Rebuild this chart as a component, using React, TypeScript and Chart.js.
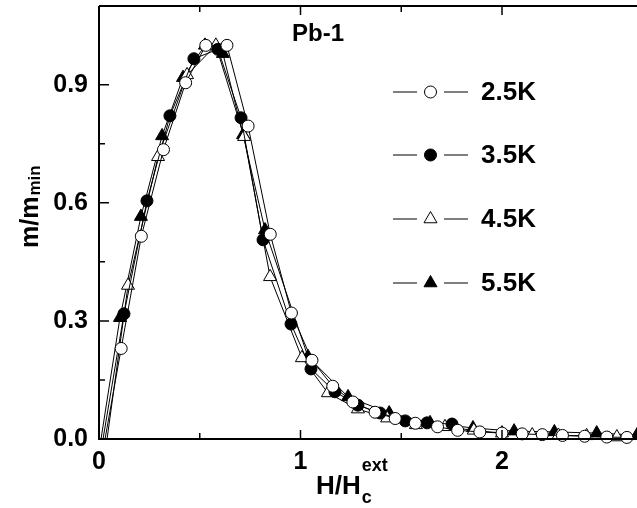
import React, { useEffect, useRef } from "react";
import { Chart, registerables } from "chart.js";

Chart.register(...registerables);

const seriesLabels = ["2.5K", "3.5K", "4.5K", "5.5K"];

const x25 = [0.03, 0.11, 0.21, 0.32, 0.43, 0.53, 0.635, 0.74, 0.85, 0.955, 1.057, 1.16, 1.26, 1.37, 1.47, 1.57, 1.68, 1.78, 1.89, 2.0, 2.1, 2.2, 2.3, 2.41, 2.52, 2.62];
const y25 = [0, 0.23, 0.515, 0.735, 0.905, 1.0, 1.0, 0.795, 0.52, 0.32, 0.2, 0.134, 0.094, 0.068, 0.052, 0.04, 0.031, 0.022, 0.018, 0.015, 0.013, 0.011, 0.009, 0.007, 0.005, 0.004];

const x35 = [0.02, 0.124, 0.238, 0.352, 0.471, 0.59, 0.705, 0.814, 0.953, 1.052, 1.171, 1.285, 1.395, 1.52, 1.628, 1.752];
const y35 = [0, 0.318, 0.605, 0.821, 0.966, 0.99, 0.816, 0.506, 0.292, 0.178, 0.12, 0.086, 0.066, 0.046, 0.041, 0.038];

const x45 = [0.04, 0.144, 0.293, 0.437, 0.58, 0.72, 0.849, 1.007, 1.136, 1.285, 1.43, 1.573, 1.717, 1.86, 2.0, 2.15, 2.28, 2.42, 2.57];
const y45 = [0, 0.39, 0.717, 0.925, 1.0, 0.768, 0.412, 0.206, 0.117, 0.076, 0.053, 0.036, 0.031, 0.022, 0.015, 0.01, 0.009, 0.008, 0.005];

const x55 = [0.01, 0.104, 0.208, 0.313, 0.417, 0.526, 0.615, 0.715, 0.824, 1.037, 1.236, 1.44, 1.643, 1.856, 2.06, 2.26, 2.47, 2.67];
const y55 = [0, 0.308, 0.565, 0.77, 0.918, 1.0, 0.979, 0.773, 0.531, 0.209, 0.107, 0.066, 0.041, 0.028, 0.02, 0.018, 0.015, 0.01];

const xMin = 0;
const xMax = 2.67;
const yMin = 0;
const yMax = 1.1;
const xStep = 0.5;
const yStep = 0.15;

const FONT = "'Liberation Sans', Arial, sans-serif";

const zip = (xs: number[], ys: number[]) => xs.map((x, i) => ({ x, y: ys[i] }));

const styles = [
  { style: "circle", fill: "#ffffff", r: 6 },
  { style: "circle", fill: "#000000", r: 6 },
  { style: "triangle", fill: "#ffffff", r: 7.5 },
  { style: "triangle", fill: "#000000", r: 7.5 },
];

const isMult = (v: number, m: number) => Math.abs(v / m - Math.round(v / m)) < 1e-6;

const decorPlugin = {
  id: "decor",
  afterDraw(chart: any) {
    const { ctx, chartArea } = chart;
    const xs = chart.scales.x;
    const ys = chart.scales.y;
    const L = chartArea.left, R = chartArea.right, T = chartArea.top, B = chartArea.bottom;
    ctx.save();
    ctx.strokeStyle = "#000";
    ctx.lineWidth = 2;
    ctx.beginPath();
    ctx.moveTo(L, T);
    ctx.lineTo(L, B);
    ctx.lineTo(R + 2, B);
    ctx.moveTo(L, T);
    ctx.lineTo(R + 2, T);
    ctx.stroke();
    ctx.lineWidth = 1.5;
    ctx.beginPath();
    xs.ticks.forEach((t: any) => {
      if (t.value >= xMax - 1e-6) return;
      const px = xs.getPixelForValue(t.value);
      const len = isMult(t.value, 1) ? 9 : 6;
      ctx.moveTo(px, B);
      ctx.lineTo(px, B - len);
      ctx.moveTo(px, T);
      ctx.lineTo(px, T + len);
    });
    ys.ticks.forEach((t: any) => {
      if (t.value >= yMax - 1e-6) return;
      const py = ys.getPixelForValue(t.value);
      const len = isMult(t.value, 0.3) ? 10 : 6;
      ctx.moveTo(L, py);
      ctx.lineTo(L + len, py);
    });
    ctx.stroke();

    ctx.fillStyle = "#000";
    ctx.font = `bold 24px ${FONT}`;
    ctx.textAlign = "left";
    ctx.textBaseline = "alphabetic";
    ctx.fillText("Pb-1", 292, 41);

    const rows = [92, 155, 219, 283];
    rows.forEach((ry, i) => {
      const s = styles[i];
      ctx.lineWidth = 1;
      ctx.strokeStyle = "#000";
      ctx.beginPath();
      ctx.moveTo(393, ry);
      ctx.lineTo(417, ry);
      ctx.moveTo(444, ry);
      ctx.lineTo(468, ry);
      ctx.stroke();
      ctx.fillStyle = s.fill;
      ctx.beginPath();
      if (s.style === "circle") {
        ctx.arc(430.5, ry, 6, 0, Math.PI * 2);
      } else {
        const r = 7.5;
        ctx.moveTo(430.5, ry - r);
        ctx.lineTo(430.5 + r * Math.sin(Math.PI / 3), ry + r * 0.5);
        ctx.lineTo(430.5 - r * Math.sin(Math.PI / 3), ry + r * 0.5);
        ctx.closePath();
      }
      ctx.fill();
      ctx.stroke();
      ctx.fillStyle = "#000";
      ctx.font = `bold 26px ${FONT}`;
      ctx.textBaseline = "middle";
      ctx.fillText(seriesLabels[i], 481, ry + 1);
    });

    ctx.textBaseline = "alphabetic";
    ctx.font = `bold 26px ${FONT}`;
    ctx.fillText("H/H", 316, 494);
    const w = ctx.measureText("H/H").width;
    ctx.font = `bold 18px ${FONT}`;
    ctx.fillText("ext", 316 + w + 1, 471);
    ctx.fillText("c", 316 + w + 1, 503);

    ctx.save();
    ctx.translate(38, 248);
    ctx.rotate(-Math.PI / 2);
    ctx.font = `bold 25px ${FONT}`;
    ctx.fillText("m/m", 0, 0);
    const w2 = ctx.measureText("m/m").width;
    ctx.font = `bold 17px ${FONT}`;
    ctx.fillText("min", w2 + 1, 2);
    ctx.restore();

    ctx.restore();
  },
};

export default function App() {
  const ref = useRef<HTMLCanvasElement | null>(null);
  useEffect(() => {
    if (!ref.current) return;
    const all = [zip(x25, y25), zip(x35, y35), zip(x45, y45), zip(x55, y55)];
    const chart = new Chart(ref.current, {
      type: "scatter",
      data: {
        datasets: all.map((d, i) => ({
          label: seriesLabels[i],
          data: d,
          showLine: true,
          borderColor: "#000",
          borderWidth: 1,
          pointStyle: styles[i].style as any,
          pointRadius: (c: any) => (c.dataIndex === 0 ? 0 : styles[i].r),
          pointBackgroundColor: styles[i].fill,
          pointBorderColor: "#000",
          pointBorderWidth: 1,
          clip: false as any,
        })),
      },
      options: {
        responsive: false,
        animation: false,
        devicePixelRatio: 1,
        layout: { autoPadding: false, padding: { top: 6, right: 0, left: 0, bottom: 0 } },
        plugins: { legend: { display: false }, tooltip: { enabled: false } },
        scales: {
          x: {
            type: "linear",
            min: xMin,
            max: xMax,
            grid: { display: false, drawTicks: false },
            border: { display: false },
            ticks: {
              stepSize: xStep,
              color: "#000",
              font: { family: FONT, size: 25, weight: "bold" },
              padding: 8,
              maxRotation: 0,
              autoSkip: false,
              callback: (v: any) => (isMult(Number(v), 1) ? String(Math.round(Number(v))) : ""),
            },
            afterFit: (s: any) => {
              s.height = 69;
              s.paddingLeft = 0;
              s.paddingRight = 0;
            },
          },
          y: {
            type: "linear",
            min: yMin,
            max: yMax,
            grid: { display: false, drawTicks: false },
            border: { display: false },
            ticks: {
              stepSize: yStep,
              color: "#000",
              font: { family: FONT, size: 25, weight: "bold" },
              padding: 11,
              autoSkip: false,
              callback: (v: any) => (isMult(Number(v), 0.3) ? Number(v).toFixed(1) : ""),
            },
            afterFit: (s: any) => {
              s.width = 99;
              s.paddingTop = 0;
              s.paddingBottom = 0;
            },
          },
        },
      },
      plugins: [decorPlugin],
    });
    return () => chart.destroy();
  }, []);
  return (
    <div style={{ position: "absolute", left: 0, top: 0, width: 637, height: 508, background: "#fff" }}>
      <canvas ref={ref} width={637} height={508} />
    </div>
  );
}
